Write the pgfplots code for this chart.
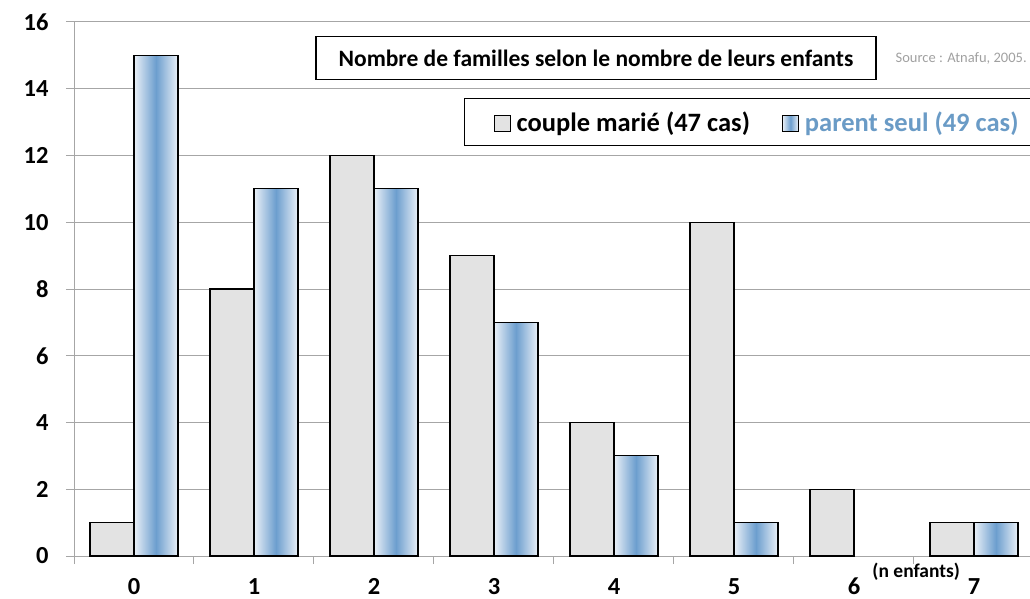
\documentclass[border=0pt]{standalone}
\usepackage{pgfplots}
\pgfplotsset{compat=1.18}
\usepackage{fontspec}
\setmainfont{Carlito}
\definecolor{gridgray}{HTML}{A6A6A6}
\definecolor{barg}{HTML}{E3E3E3}
\definecolor{bluemid}{HTML}{6C9ECE}
\definecolor{blueedge}{HTML}{EAF0F7}
\definecolor{legblue}{HTML}{6A9BC6}
\definecolor{srcgray}{HTML}{A0A0A0}
\begin{document}
\begin{tikzpicture}
\begin{axis}[
  name=ax,
  scale only axis,
  clip=false,
  width=956bp, height=534bp,
  xmin=-0.5, xmax=7.467,
  ymin=0, ymax=16,
  ytick={0,2,...,16},
  xtick={0,...,7},
  minor xtick={-0.5,0.5,...,6.5},
  axis x line*=bottom,
  axis y line*=left,
  axis line style={draw=gridgray, line width=1pt},
  ymajorgrids,
  grid style={draw=gridgray, line width=1pt},
  tick align=outside,
  major tick length=8bp,
  minor tick length=8bp,
  x tick style={draw=none},
  minor x tick style={draw=gridgray, line width=1pt},
  y tick style={draw=gridgray, line width=1pt},
  /pgf/number format/assume math mode=true,
  ticklabel style={font=\bfseries\fontsize{24.5bp}{26bp}\selectfont, text=black},
  xticklabel style={inner sep=0pt, text depth=0pt, yshift=-14bp},
  yticklabel style={xshift=-14bp},
  ybar,
  bar width=44bp,
  legend columns=2,
  legend style={at={(0.408,0.858)}, anchor=north west, draw=black, line width=1.2pt,
    font=\bfseries\fontsize{26.5bp}{28bp}\selectfont, inner xsep=29bp, inner ysep=11bp,
    /tikz/every odd column/.append style={column sep=4bp},
    /tikz/every even column/.append style={column sep=30bp}},
  legend image code/.code={\draw[#1, line width=1pt] (0bp,-10bp) rectangle (16bp,6bp);},
  bl/.style={draw=black, line width=1.2pt, left color=blueedge, right color=blueedge, middle color=bluemid, bar shift=22bp},
]
\addplot[draw=black, line width=1.2pt, fill=barg, bar shift=-22bp] coordinates {
  (0,1) (1,8) (2,12) (3,9) (4,4) (5,10) (6,2) (7,1)};
\addlegendentry{couple marié (47 cas)}
\addplot[bl] coordinates {(0,15)};
\addlegendentry{\textcolor{legblue}{parent seul (49 cas)}}
\addplot[bl, forget plot] coordinates {(1,11)};
\addplot[bl, forget plot] coordinates {(2,11)};
\addplot[bl, forget plot] coordinates {(3,7)};
\addplot[bl, forget plot] coordinates {(4,3)};
\addplot[bl, forget plot] coordinates {(5,1)};
\addplot[bl, forget plot] coordinates {(7,1)};
\node[draw=black, line width=1.2pt, fill=white, font=\bfseries\fontsize{23.5bp}{25bp}\selectfont,
  minimum width=560bp, minimum height=43bp] at (rel axis cs:0.546,0.932)
  {Nombre de familles selon le nombre de leurs enfants};
\node[text=srcgray, font=\fontsize{14.5bp}{16bp}\selectfont] at (rel axis cs:0.928,0.932) {Source : Atnafu, 2005.};
\node[font=\bfseries\fontsize{19.5bp}{21bp}\selectfont] at (rel axis cs:0.881,-0.030) {(n enfants)};
\end{axis}
\pgfresetboundingbox
\path ([xshift=-74bp,yshift=-43bp]ax.south west) rectangle ([yshift=22bp]ax.north east);
\end{tikzpicture}
\end{document}
